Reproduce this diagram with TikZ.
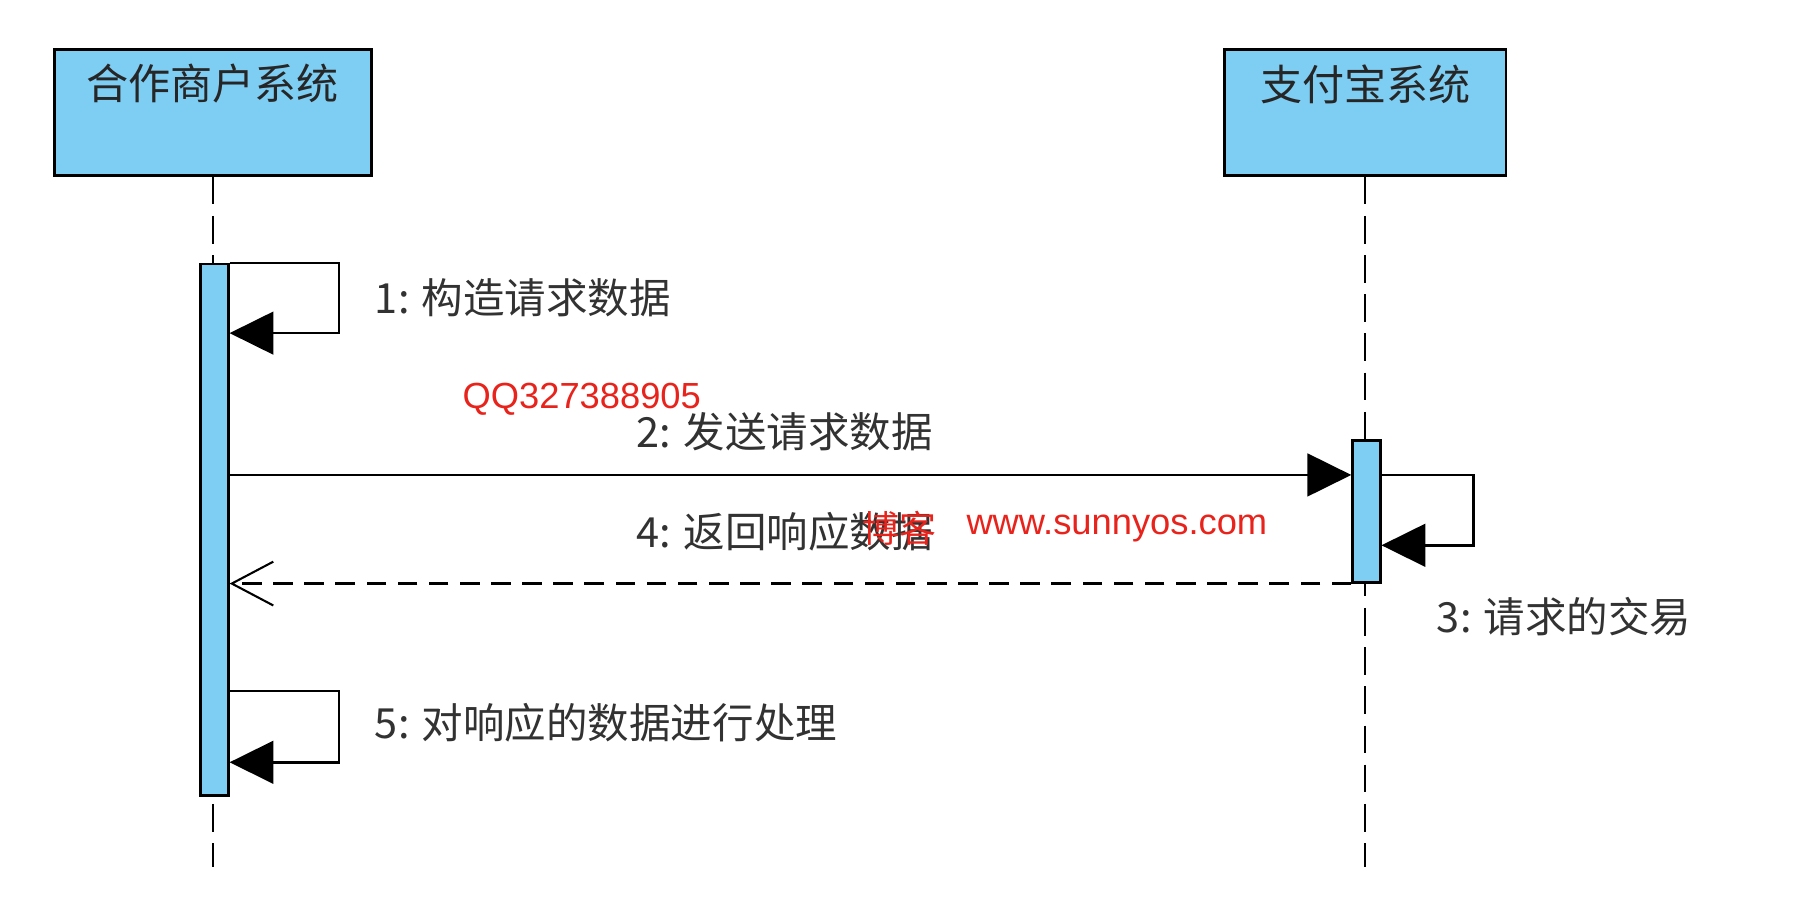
\documentclass[tikz,border=0pt]{standalone}
\usepackage{fontspec}
\setmainfont{Noto Sans CJK SC}
\newfontfamily\wmfont{Liberation Sans}
\usetikzlibrary{arrows.meta}
\definecolor{boxblue}{RGB}{126,206,244}
\definecolor{txtgray}{RGB}{50,50,50}
\definecolor{wmred}{RGB}{232,35,27}
\tikzset{
  lifebox/.style={draw=black, line width=2.4pt, fill=boxblue, minimum height=109pt, inner sep=0pt},
  actbar/.style={draw=black, line width=2.2pt, fill=boxblue, minimum width=24pt, inner sep=0pt},
  lifeline/.style={draw=black, line width=2pt, dash pattern=on 24pt off 10pt},
  msg/.style={draw=black, line width=2.2pt},
  filledtip/.style={-{Triangle[length=38pt,width=37pt]}},
  opentip/.style={-{Straight Barb[length=36pt,width=38pt,line width=1.8pt]}},
  retmsg/.style={draw=black, line width=2.2pt, dash pattern=on 17pt off 10pt},
  lbl/.style={anchor=west, inner sep=0pt, text=txtgray, font=\fontsize{36}{42}\selectfont},
  title/.style={inner sep=0pt, text=black!85, font=\fontsize{36.5}{42}\selectfont},
  wm/.style={anchor=west, inner sep=0pt, text=wmred, font=\wmfont\fontsize{31.5}{36}\selectfont}
}
\begin{document}
\begin{tikzpicture}[x=1pt,y=-1pt]
\useasboundingbox (0,0) rectangle (1568,780.5);
% lifeline heads
\node[lifebox, minimum width=275pt] (A) at (184.5,97.5) {};
\node[title] (At) at ([yshift=-31pt]A.north) {合作商户系统};
\node[lifebox, minimum width=244pt] (B) at (1184,97.5) {};
\node[title] (Bt) at ([yshift=-31pt]B.north) {支付宝系统};
% lifeline ends
\coordinate (Aend) at (184.5,752);
\coordinate (Bend) at (1184,752);
\draw[lifeline] (A.south) -- (Aend);
\draw[lifeline] (B.south) -- (Bend);
% activation bars
\node[actbar, minimum height=461pt] (Ab) at (186,459.5) {};
\node[actbar, minimum height=123pt] (Bb) at (1185,443.5) {};
% 1: self message
\draw[msg, filledtip] (Ab.north east) -- ++(95,0) -- ++(0,61) -- ([yshift=-61pt]Ab.north east);
\node[lbl] (L1) at (325,258) {1: 构造请求数据};
% 2: request
\coordinate (m2b) at ([yshift=-31pt]Bb.north west);
\draw[msg, filledtip] (Ab.east |- m2b) -- (m2b);
\node[lbl] (L2) at (552,374) {2: 发送请求数据};
% 3: self message on Alipay
\coordinate (m3a) at ([yshift=-31pt]Bb.north east);
\draw[msg, filledtip] (m3a) -- ++(80,0) -- ++(0,61) -- ([yshift=-92pt]Bb.north east);
\node[lbl] (L3) at (1246,535) {3: 请求的交易};
% 4: return
\draw[retmsg, opentip] (Bb.south west) -- (Ab.east |- Bb.south west);
\node[lbl] (L4) at (552,461) {4: 返回响应数据};
% 5: self message
\draw[msg, filledtip] ([yshift=92pt]Ab.south east) -- ++(95,0) -- ++(0,62) -- ([yshift=30pt]Ab.south east);
\node[lbl] (L5) at (325,627) {5: 对响应的数据进行处理};
% watermarks
\node[wm] (W1) at (401,346) {QQ327388905};
\node[anchor=west, inner sep=0pt, text=wmred, font=\fontsize{32}{36}\selectfont] (W2a) at (748,458) {博客};
\node[wm] (W2b) at (838,458) {www.sunnyos.com};
\end{tikzpicture}
\end{document}
